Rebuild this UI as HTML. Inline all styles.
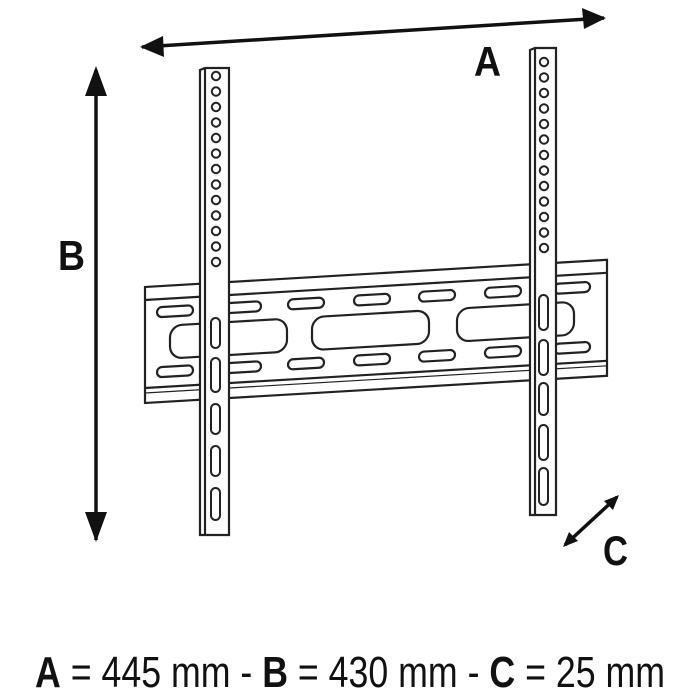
<!DOCTYPE html>
<html><head><meta charset="utf-8"><style>
html,body{margin:0;padding:0;background:#fff;width:700px;height:700px;overflow:hidden}
svg{display:block}
</style></head><body>
<svg width="700" height="700" viewBox="0 0 700 700" xmlns="http://www.w3.org/2000/svg">
<rect width="700" height="700" fill="#fff"/>
<g stroke="#111" stroke-width="3.5" fill="none">
<line x1="142" y1="47" x2="604" y2="18"/>
<line x1="96" y1="70" x2="96" y2="540"/>
<line x1="565" y1="545" x2="617" y2="497"/>
</g>
<path d="M140,47 L163,36 L164,57 Z" fill="#111"/>
<path d="M606,18 L582,8 L584,29 Z" fill="#111"/>
<path d="M96,66 L85,96 L107,96 Z" fill="#111"/>
<path d="M96,542 L85,512 L107,512 Z" fill="#111"/>
<path d="M563,547 L569,532 L578,541 Z" fill="#111"/>
<path d="M619,495 L613,510 L604,501 Z" fill="#111"/>
<g font-family="Liberation Sans, sans-serif" font-weight="bold" fill="#111" font-size="42">
<text x="474" y="76" textLength="27" lengthAdjust="spacingAndGlyphs">A</text>
<text x="58" y="270" textLength="27" lengthAdjust="spacingAndGlyphs">B</text>
<text x="603" y="565" textLength="25" lengthAdjust="spacingAndGlyphs">C</text>
</g>
<g transform="translate(0,8.54) skewY(-3.37)" stroke="#222" stroke-width="2.2" fill="#fff">
<rect x="145" y="287" width="462" height="116"/>
<line x1="145" y1="300" x2="607" y2="300"/>
<line x1="145" y1="388" x2="607" y2="388"/>
<line x1="145" y1="393" x2="607" y2="393" stroke-width="1.2"/>
<g stroke-width="2.2">
<rect x="157" y="308" width="36" height="10" rx="5"/>
<rect x="225" y="308" width="36" height="10" rx="5"/>
<rect x="288" y="308" width="36" height="10" rx="5"/>
<rect x="354" y="308" width="36" height="10" rx="5"/>
<rect x="419" y="308" width="36" height="10" rx="5"/>
<rect x="485" y="308" width="36" height="10" rx="5"/>
<rect x="554" y="308" width="36" height="10" rx="5"/>
<rect x="157" y="368" width="36" height="10" rx="5"/>
<rect x="225" y="368" width="36" height="10" rx="5"/>
<rect x="288" y="368" width="36" height="10" rx="5"/>
<rect x="354" y="368" width="36" height="10" rx="5"/>
<rect x="419" y="368" width="36" height="10" rx="5"/>
<rect x="485" y="368" width="36" height="10" rx="5"/>
<rect x="554" y="368" width="36" height="10" rx="5"/>
<rect x="170" y="327" width="117" height="33" rx="12"/>
<rect x="312" y="327" width="117" height="33" rx="12"/>
<rect x="457" y="327" width="117" height="33" rx="12"/>
</g>
</g>
<g stroke="#222" stroke-width="2.2" fill="#fff">
<path d="M200,70 L205,68 L229,68 L229,535 L200,535 Z"/>
<line x1="205" y1="68" x2="205" y2="535"/>
<path d="M530,50 L535,48 L556,48 L556,515 L530,515 Z"/>
<line x1="535" y1="48" x2="535" y2="515"/>
</g>
<g stroke="#222" stroke-width="2" fill="#fff">
<g id="lh">
<circle cx="216" cy="76" r="4.2"/><circle cx="216" cy="91.5" r="4.2"/><circle cx="216" cy="107" r="4.2"/>
<circle cx="216" cy="122.5" r="4.2"/><circle cx="216" cy="138" r="4.2"/><circle cx="216" cy="153.5" r="4.2"/>
<circle cx="216" cy="169" r="4.2"/><circle cx="216" cy="184.5" r="4.2"/><circle cx="216" cy="200" r="4.2"/>
<circle cx="216" cy="215.5" r="4.2"/><circle cx="216" cy="231" r="4.2"/><circle cx="216" cy="246.5" r="4.2"/>
<circle cx="216" cy="262" r="4.2"/>
</g>
<use href="#lh" transform="translate(328,-14)"/>
<rect x="211" y="318" width="9" height="30" rx="4.5"/>
<rect x="211" y="358" width="9" height="34" rx="4.5"/>
<rect x="211" y="404" width="9" height="30" rx="4.5"/>
<rect x="211" y="446" width="9" height="30" rx="4.5"/>
<rect x="211" y="488" width="9" height="32" rx="4.5"/>
<rect x="539" y="295" width="9" height="35" rx="4.5"/>
<rect x="539" y="340" width="9" height="35" rx="4.5"/>
<rect x="539" y="383" width="9" height="32" rx="4.5"/>
<rect x="539" y="425" width="9" height="35" rx="4.5"/>
<rect x="539" y="468" width="9" height="37" rx="4.5"/>
</g>
<text x="35" y="687" font-family="Liberation Sans, sans-serif" font-size="44" fill="#111" textLength="630" lengthAdjust="spacingAndGlyphs"><tspan font-weight="bold">A</tspan> = 445 mm - <tspan font-weight="bold">B</tspan> = 430 mm - <tspan font-weight="bold">C</tspan> = 25 mm</text>
</svg>
</body></html>
